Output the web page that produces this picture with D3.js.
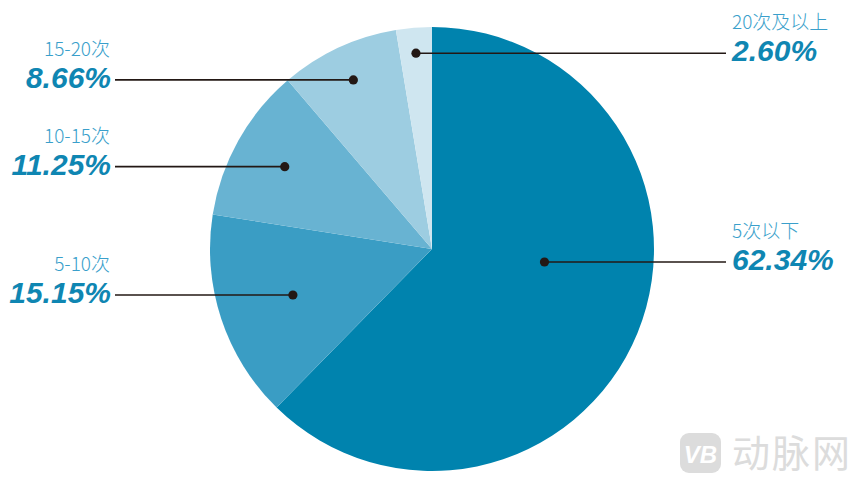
<!DOCTYPE html>
<html><head><meta charset="utf-8">
<script src="https://cdn.jsdelivr.net/npm/d3@7"></script>
<style>
html,body{margin:0;padding:0;background:#fff;}
svg{display:block;}
</style></head>
<body>
<svg id="chart" width="861" height="486"></svg>
<script>
// data
const categories = ["5次以下", "5-10次", "10-15次", "15-20次", "20次及以上"];
const values = [62.34, 15.15, 11.25, 8.66, 2.60];
const percentLabels = ["62.34%", "15.15%", "11.25%", "8.66%", "2.60%"];
const colors = ["#0083ae", "#3a9dc4", "#68b3d2", "#9dcde1", "#cfe6f0"];
// label anchor placement (fraction of radius, optional angle override in degrees)
const dotRadiusFrac = [0.51, 0.66, 0.76, 0.84, 0.885];
const dotAngleOverride = [96.6, null, null, null, null];
const labelSide = ["right", "left", "left", "left", "right"];

const svg = d3.select("#chart");
const cx = 432, cy = 249, R = 222;

const pie = d3.pie().sort(null).value(d => d)(values);
const arc = d3.arc().innerRadius(0).outerRadius(R);

const g = svg.append("g").attr("transform", `translate(${cx},${cy})`);
g.selectAll("path").data(pie).join("path")
  .attr("d", arc)
  .attr("fill", (d, i) => colors[i]);

// labels
const leftX = 110, rightX = 732;
const lineColor = "#231815";
pie.forEach((d, i) => {
  const ang = dotAngleOverride[i] != null ? dotAngleOverride[i] * Math.PI / 180 : (d.startAngle + d.endAngle) / 2;
  const r = dotRadiusFrac[i] * R;
  const x = cx + r * Math.sin(ang);
  const y = cy - r * Math.cos(ang);
  const side = labelSide[i];
  const x2 = side === "left" ? leftX + 5 : rightX - 6;
  svg.append("line")
    .attr("x1", x).attr("y1", y).attr("x2", x2).attr("y2", y)
    .attr("stroke", lineColor).attr("stroke-width", 1.6);
  svg.append("circle").attr("cx", x).attr("cy", y).attr("r", 4.6).attr("fill", lineColor);
  const tx = side === "left" ? leftX : rightX;
  const anchor = side === "left" ? "end" : "start";
  svg.append("text")
    .attr("x", tx).attr("y", y - 24)
    .attr("text-anchor", anchor)
    .attr("font-family", "'Noto Sans CJK SC', 'Noto Sans', sans-serif")
    .attr("font-weight", 300)
    .attr("font-size", 19)
    .attr("fill", "#3a9fcb")
    .text(categories[i]);
  svg.append("text")
    .attr("x", side === "left" ? tx + 1 : tx)
    .attr("y", y + 8)
    .attr("text-anchor", anchor)
    .attr("font-family", "'Liberation Sans', Arial, sans-serif")
    .attr("font-weight", "bold")
    .attr("font-style", "italic")
    .attr("font-size", 30)
    .attr("fill", "#0f86b2")
    .text(percentLabels[i]);
});

// watermark
const wm = svg.append("g");
wm.append("rect").attr("x", 680).attr("y", 433).attr("width", 41).attr("height", 40)
  .attr("rx", 9).attr("fill", "#dcdcdc");
wm.append("text").attr("x", 700.5).attr("y", 463).attr("text-anchor", "middle")
  .attr("font-family", "'Liberation Sans', Arial, sans-serif").attr("font-weight", "bold")
  .attr("font-style", "italic").attr("font-size", 24).attr("fill", "#fff").text("VB");
wm.append("text").attr("x", 732).attr("y", 467)
  .attr("font-family", "'Noto Sans CJK SC', sans-serif").attr("font-weight", 400)
  .attr("font-size", 38).attr("fill", "#dcdcdc").attr("letter-spacing", 2).text("动脉网");
</script>
</body></html>
